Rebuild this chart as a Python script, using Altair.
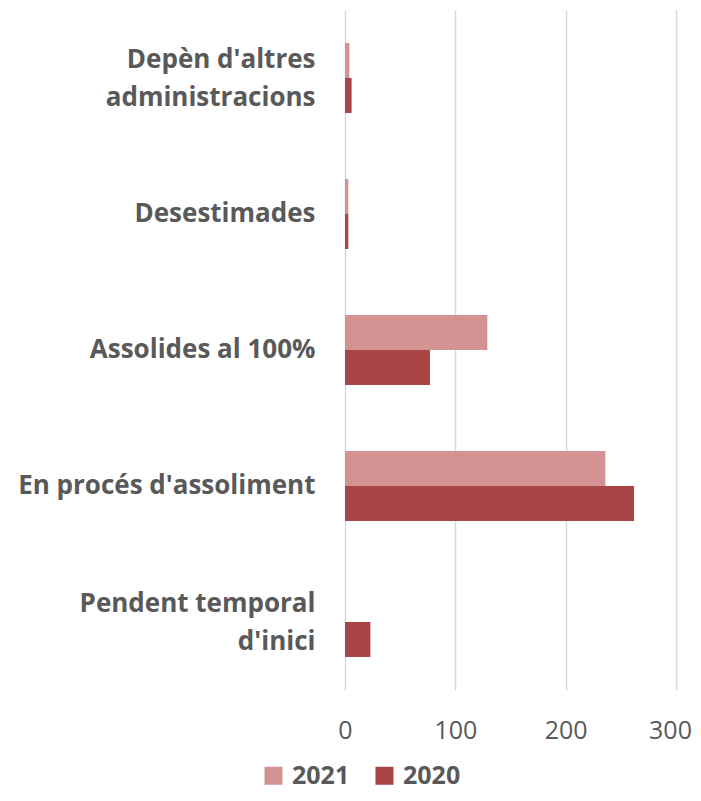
import altair as alt
import pandas as pd

categories = ["Depèn d'altres|administracions", "Desestimades", "Assolides al 100%",
              "En procés d'assoliment", "Pendent temporal|d'inici"]
years = ["2021", "2020"]
values_2021 = [4, 3, 129, 236, 0]
values_2020 = [6, 3, 77, 262, 23]
x_ticks = [0, 100, 200, 300]

rows = []
for c, v21, v20 in zip(categories, values_2021, values_2020):
    rows.append({"cat": c, "year": "2021", "value": v21})
    rows.append({"cat": c, "year": "2020", "value": v20})
df = pd.DataFrame(rows)

chart = alt.Chart(df).mark_bar().encode(
    y=alt.Y("cat:N", sort=categories, title=None,
            scale=alt.Scale(paddingInner=0.485, paddingOuter=0.2425),
            axis=alt.Axis(labelExpr="split(datum.label, '|')", labelFont="Open Sans",
                          labelFontWeight="bold", labelFontSize=26, labelColor="#595959",
                          labelPadding=30, ticks=False, domain=False, labelLimit=400,
                          labelLineHeight=38,
                          labelOffset={"condition": {"test": "indexof(datum.label, '|') >= 0",
                                                     "value": -18}, "value": 0})),
    yOffset=alt.YOffset("year:N", sort=years, scale=alt.Scale(paddingInner=0, paddingOuter=0)),
    x=alt.X("value:Q", title=None, scale=alt.Scale(domain=[0, 300], nice=False),
            axis=alt.Axis(values=x_ticks, labelFont="Open Sans", labelFontSize=25,
                          labelColor="#595959", ticks=False, domain=False, labelFlush=False,
                          labelOffset={"condition": {"test": "datum.value >= 300", "value": -6},
                                       "value": 0},
                          grid=True, gridColor="#d9d9d9", gridWidth=1.5, labelPadding=28)),
    color=alt.Color("year:N", sort=years,
                    scale=alt.Scale(domain=years, range=["#D39393", "#A94545"]),
                    legend=alt.Legend(title=None, orient="none", direction="horizontal",
                                      legendX=-84, legendY=753, symbolType="square",
                                      symbolSize=324, symbolStrokeWidth=0,
                                      labelFont="Open Sans", labelFontWeight="bold",
                                      labelFontSize=25, labelColor="#595959",
                                      columnPadding=22, labelOffset=6)),
).properties(
    width=331, height=680,
    padding={"left": 337, "top": 2, "right": 17, "bottom": 103},
    autosize=alt.AutoSizeParams(type="none"),
).configure_view(stroke=None)

chart.save("out.html", embed_options={"renderer": "svg", "actions": False})
